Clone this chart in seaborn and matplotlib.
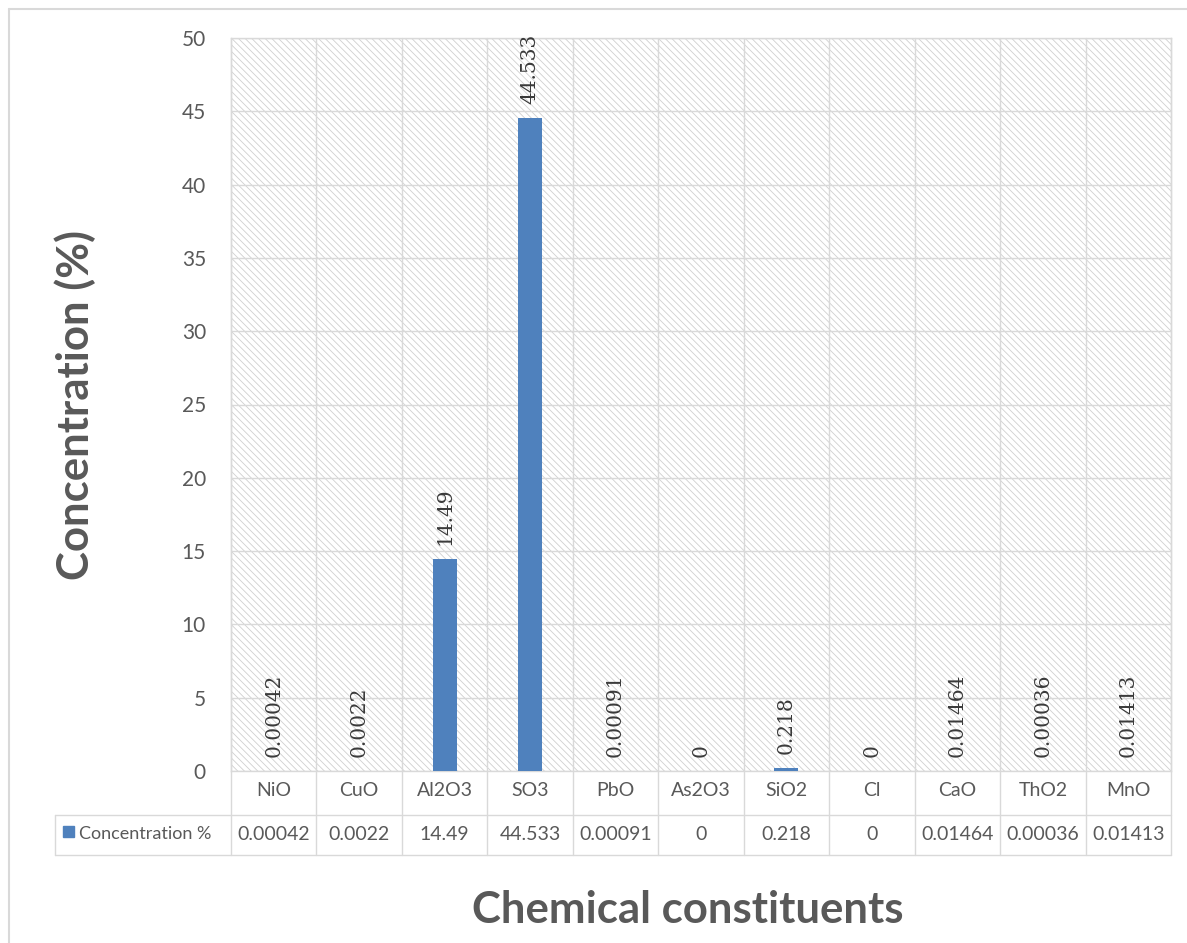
import numpy as np
import pandas as pd
import matplotlib
matplotlib.use("Agg")
import matplotlib.pyplot as plt
import matplotlib.transforms as mtransforms
from matplotlib.lines import Line2D
from matplotlib.patches import Rectangle
import seaborn as sns

# ---- data ----
categories = ["NiO", "CuO", "Al2O3", "SO3", "PbO", "As2O3", "SiO2", "Cl", "CaO", "ThO2", "MnO"]
values = [0.00042, 0.0022, 14.49, 44.533, 0.00091, 0, 0.218, 0, 0.01464, 0.00036, 0.01413]
series_name = "Concentration %"
y_ticks = [0, 5, 10, 15, 20, 25, 30, 35, 40, 45, 50]
y_label = "Concentration (%)"
x_label = "Chemical constituents"

# ---- style ----
W, H = 1187, 943
BLUE = "#4F81BD"
GRID = "#d9d9d9"
TXT = "#595959"
sns.set_theme(style="white")
plt.rcParams['font.family'] = ['Lato', 'DejaVu Sans']
plt.rcParams['hatch.linewidth'] = 0.6
plt.rcParams['hatch.color'] = "#d0d0d0"

fig = plt.figure(figsize=(W / 100, H / 100), dpi=100)
fig.patch.set_facecolor("white")


def fx(px):
    return px / W


def fy(py):
    return 1 - py / H


L, R, T, B = 231, 1171, 38, 771
ax = fig.add_axes([fx(L), fy(B), (R - L) / W, (B - T) / H])
ax.set_facecolor("white")

# hatched background
bg = Rectangle((0, 0), 1, 1, transform=ax.transAxes, facecolor="white",
               edgecolor="#d0d0d0", hatch="\\\\\\\\\\", linewidth=0, zorder=0)
ax.add_patch(bg)

df = pd.DataFrame({"Chemical": categories, "Concentration": values})
sns.barplot(data=df, x="Chemical", y="Concentration", color=BLUE, saturation=1,
            width=0.28, ax=ax, zorder=3, linewidth=0)

ax.set_xlim(-0.5, len(categories) - 0.5)
ax.set_ylim(y_ticks[0], y_ticks[-1])
ax.set_yticks(y_ticks)
ax.set_yticklabels([str(t) for t in y_ticks])
ax.set_xlabel("")
ax.set_ylabel("")
ax.tick_params(axis="y", length=0, pad=18, labelsize=15, labelcolor=TXT)
ax.tick_params(axis="x", length=0, pad=8, labelsize=14, labelcolor=TXT)

for sp in ax.spines.values():
    sp.set_color(GRID)
    sp.set_linewidth(1)

# horizontal grid
for t in y_ticks:
    ax.axhline(t, color=GRID, lw=1, zorder=1)

# vertical boundaries (extend into table)
row2_bottom = -(855 - B) / (B - T)
blend = mtransforms.blended_transform_factory(ax.transData, ax.transAxes)
for i in range(len(categories) + 1):
    xb = i - 0.5
    ax.plot([xb, xb], [row2_bottom, 1], color=GRID, lw=1, transform=blend,
            clip_on=False, zorder=1)

# bar labels
lab = [f"{v:g}" for v in values]
ax.bar_label(ax.containers[0], labels=lab, rotation=90, padding=10,
             fontsize=14.5, color="#3a3a3a", family=["DejaVu Serif"])

# data table row
row2_center = -(835 - B) / (B - T)
for i, v in enumerate(values):
    ax.text(i, row2_center, f"{v:g}", transform=blend, ha="center", va="center",
            fontsize=14, color=TXT, clip_on=False)

# table horizontal lines
for yy, x0 in [(815, 55), (855, 55)]:
    fig.add_artist(Line2D([fx(x0), fx(R)], [fy(yy), fy(yy)], color=GRID, lw=1,
                          transform=fig.transFigure))
fig.add_artist(Line2D([fx(55), fx(55)], [fy(815), fy(855)], color=GRID, lw=1,
                      transform=fig.transFigure))

# legend key in table
fig.add_artist(Rectangle((fx(63), fy(837)), fx(11), 11 / H, color=BLUE,
                         transform=fig.transFigure))
fig.text(fx(79), fy(834), series_name, fontsize=13, color=TXT, ha="left", va="center")

# axis titles
fig.text(fx(75), fy(405), y_label, rotation=90, fontsize=31.5, fontweight="bold",
         color=TXT, ha="center", va="center")
fig.text(fx(688), fy(910), x_label, fontsize=31.5, fontweight="bold",
         color=TXT, ha="center", va="center")

# outer chart frame
fig.add_artist(Line2D([fx(9), fx(W + 5)], [fy(9), fy(9)], color=GRID, lw=1.5,
                      transform=fig.transFigure))
fig.add_artist(Line2D([fx(9), fx(9)], [fy(9), fy(H + 5)], color=GRID, lw=1.5,
                      transform=fig.transFigure))

fig.savefig("out.png", dpi=100, facecolor="white")
